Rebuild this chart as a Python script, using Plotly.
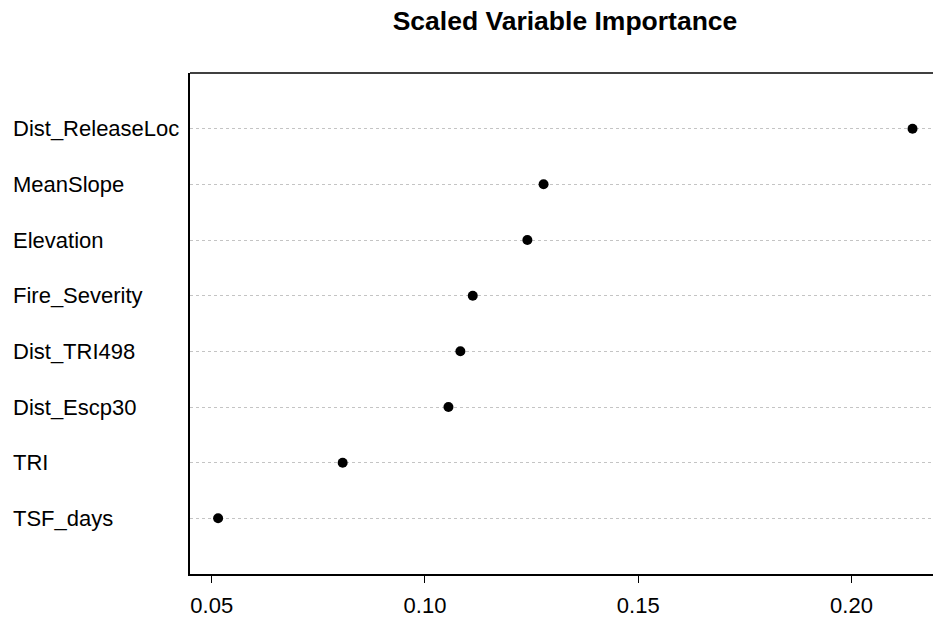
import plotly.graph_objects as go

# Data (bottom to top order as drawn)
variables = ["TSF_days", "TRI", "Dist_Escp30", "Dist_TRI498", "Fire_Severity",
             "Elevation", "MeanSlope", "Dist_ReleaseLoc"]
importance = [0.0515, 0.0807, 0.1055, 0.1083, 0.1112, 0.1240, 0.1278, 0.2143]
positions = list(range(1, len(variables) + 1))
x_tickvals = [0.05, 0.10, 0.15, 0.20]
x_ticktext = ["0.05", "0.10", "0.15", "0.20"]
title_text = "Scaled Variable Importance"

W, H = 933, 627
L, R, T, B = 190, 0, 73, 53
FONT = "Liberation Sans, Arial, sans-serif"

fig = go.Figure()
fig.add_trace(go.Scatter(
    x=importance, y=positions, mode="markers",
    marker=dict(color="black", size=10),
    hoverinfo="skip", showlegend=False,
))

annotations = []
for name, pos in zip(variables, positions):
    annotations.append(dict(
        text=name, x=(11 - L) / (W - L - R), xref="paper", y=pos, yref="y",
        xanchor="left", yanchor="middle", showarrow=False,
        font=dict(family=FONT, size=22, color="black"),
    ))

fig.update_layout(
    width=W, height=H,
    margin=dict(l=L, r=R, t=T, b=B, pad=0),
    paper_bgcolor="white", plot_bgcolor="white",
    title=dict(text=title_text, x=565 / W, xref="container", xanchor="center",
               y=1 - 21 / H, yref="container", yanchor="middle",
               font=dict(family=FONT, size=26.5, color="black", weight=700)),
    annotations=annotations,
    shapes=[dict(type="line", xref="paper", yref="paper", x0=0, x1=1, y0=1, y1=1,
                 line=dict(color="black", width=1.5))],
    xaxis=dict(range=[0.04491, 0.2191], tickvals=x_tickvals, ticktext=x_ticktext,
               showline=True, linecolor="black", linewidth=1.5,
               ticks="outside", ticklen=7, tickwidth=1.2, tickcolor="black",
               showgrid=False, zeroline=False,
               tickfont=dict(family=FONT, size=22, color="black"),
               ticklabelstandoff=4),
    yaxis=dict(range=[0, 9], tickvals=positions, showticklabels=False,
               showline=True, linecolor="black", linewidth=1.5, ticks="",
               showgrid=True, gridcolor="#c4c4c4", gridwidth=1, griddash="dot",
               zeroline=False),
)

fig.write_html(
    "out.html",
    config={"displayModeBar": False},
    post_script="document.body.style.margin='0px';document.body.style.overflow='hidden';",
)
